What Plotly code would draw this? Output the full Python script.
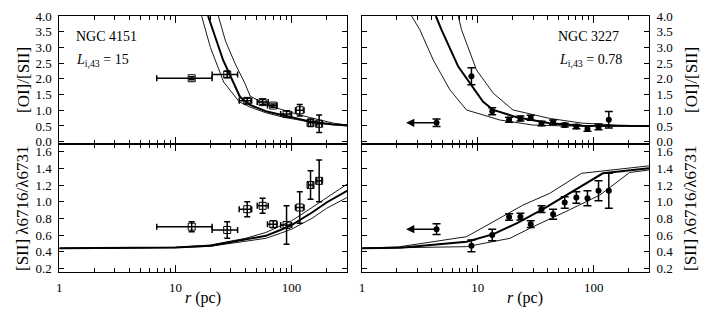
import math
import plotly.graph_objects as go

# ---------------- data ----------------
# NGC 4151 (left panels)
n4151_r = [13.8, 27.9, 41.5, 56.3, 69.5, 90.5, 117.6, 145.6, 172.8]
n4151_r_lo = [6.9, 20.7, 35.4, 50.6, 62.0, 80.5, 108.0, 139.0, 165.0]
n4151_r_hi = [20.7, 34.3, 45.3, 62.9, 75.0, 100.0, 128.0, 153.0, 182.0]
n4151_oi = [2.02, 2.14, 1.30, 1.26, 1.15, 0.88, 1.00, 0.60, 0.57]
n4151_oi_err = [0.05, 0.10, 0.08, 0.08, 0.05, 0.10, 0.18, 0.12, 0.28]
n4151_sii = [0.70, 0.66, 0.91, 0.95, 0.73, 0.72, 0.93, 1.20, 1.25]
n4151_sii_err = [0.06, 0.10, 0.09, 0.09, 0.04, 0.23, 0.19, 0.17, 0.25]

# NGC 3227 (right panels); first point is an upper limit in r
n3227_r = [4.4, 8.8, 13.3, 18.6, 23.3, 28.6, 35.4, 44.6, 56.2, 70.8, 88.3, 110.0, 135.0]
n3227_oi = [0.60, 2.08, 0.97, 0.70, 0.74, 0.76, 0.58, 0.62, 0.53, 0.48, 0.41, 0.47, 0.70]
n3227_oi_err = [0.12, 0.27, 0.11, 0.08, 0.08, 0.08, 0.07, 0.07, 0.06, 0.07, 0.08, 0.09, 0.26]
n3227_sii = [0.67, 0.47, 0.60, 0.816, 0.82, 0.73, 0.91, 0.85, 0.99, 1.05, 1.04, 1.13, 1.13]
n3227_sii_err = [0.065, 0.07, 0.07, 0.04, 0.04, 0.04, 0.04, 0.06, 0.07, 0.07, 0.09, 0.12, 0.21]
n3227_limit_r_end = 2.4

# model curves, NGC 4151, [OI]/[SII]
m4151_oi_mid_r = [19.1, 25.7, 35.9, 43.8, 60, 85, 143, 229, 300]
m4151_oi_mid_v = [4.0, 2.6, 1.43, 1.17, 0.97, 0.83, 0.64, 0.55, 0.52]
m4151_oi_lo_r = [16.8, 20, 26, 35.4, 44, 60, 85, 164, 300]
m4151_oi_lo_v = [4.0, 3.0, 1.9, 1.27, 1.1, 0.92, 0.78, 0.59, 0.5]
m4151_oi_hi_r = [23.4, 27, 32.5, 39.6, 44, 61, 117, 229, 300]
m4151_oi_hi_v = [4.0, 3.2, 2.5, 1.86, 1.45, 1.17, 0.85, 0.59, 0.53]

# model curves, NGC 4151, [SII] ratio
m4151_sii_r = [1, 5, 10, 20, 40, 60, 80, 100, 150, 200, 300]
m4151_sii_mid_v = [0.44, 0.443, 0.45, 0.47, 0.54, 0.59, 0.66, 0.72, 0.87, 0.99, 1.13]
m4151_sii_up_v = [0.44, 0.443, 0.452, 0.48, 0.56, 0.63, 0.71, 0.77, 0.93, 1.05, 1.21]
m4151_sii_dn_v = [0.44, 0.443, 0.448, 0.465, 0.53, 0.56, 0.62, 0.67, 0.80, 0.92, 1.05]

# model curves, NGC 3227, [OI]/[SII]
m3227_oi_mid_r = [4.34, 4.86, 6.77, 8.82, 11.1, 13.6, 21.6, 41.7, 81, 300]
m3227_oi_mid_v = [4.0, 3.56, 2.39, 1.8, 1.27, 1.01, 0.78, 0.59, 0.51, 0.5]
m3227_oi_lo_r = [2.68, 3.16, 4.12, 5.74, 7.98, 15.5, 30, 60, 300]
m3227_oi_lo_v = [4.0, 3.56, 2.6, 1.65, 1.01, 0.69, 0.53, 0.5, 0.5]
m3227_oi_hi_r = [6.77, 7.23, 9.74, 13.6, 20.1, 41.7, 80, 157, 300]
m3227_oi_hi_v = [4.0, 3.56, 2.28, 1.54, 1.01, 0.74, 0.59, 0.53, 0.5]

# model curves, NGC 3227, [SII] ratio
m3227_sii_mid_r = [1, 2.13, 8, 13.6, 21.6, 36.5, 120, 300]
m3227_sii_mid_v = [0.44, 0.447, 0.52, 0.61, 0.74, 0.91, 1.34, 1.40]
m3227_sii_up_r = [1, 2.13, 8, 15.5, 24.6, 41.7, 78.3, 300]
m3227_sii_up_v = [0.44, 0.46, 0.58, 0.80, 0.96, 1.10, 1.34, 1.43]
m3227_sii_dn_r = [1, 2.13, 8, 18.9, 30, 57.3, 113, 204, 300]
m3227_sii_dn_v = [0.44, 0.445, 0.46, 0.56, 0.70, 0.88, 1.08, 1.35, 1.38]

x_major = [1, 10, 100]
x_minor = [2, 3, 4, 5, 6, 7, 8, 9, 20, 30, 40, 50, 60, 70, 80, 90, 200, 300]
oi_ticks = [0.0, 0.5, 1.0, 1.5, 2.0, 2.5, 3.0, 3.5, 4.0]
sii_ticks = [0.2, 0.4, 0.6, 0.8, 1.0, 1.2, 1.4, 1.6]

# ---------------- figure ----------------
W, H = 709, 313
FONT = "Liberation Serif"
fig = go.Figure()

def line(r, v, xa, ya, w):
    fig.add_trace(go.Scatter(x=r, y=v, mode="lines", xaxis=xa, yaxis=ya,
                             line=dict(color="black", width=w), showlegend=False,
                             hoverinfo="skip"))

# NGC 4151 curves
line(m4151_oi_lo_r, m4151_oi_lo_v, "x", "y", 0.9)
line(m4151_oi_hi_r, m4151_oi_hi_v, "x", "y", 0.9)
line(m4151_oi_mid_r, m4151_oi_mid_v, "x", "y", 2.0)
line(m4151_sii_r, m4151_sii_up_v, "x2", "y2", 0.9)
line(m4151_sii_r, m4151_sii_dn_v, "x2", "y2", 0.9)
line(m4151_sii_r, m4151_sii_mid_v, "x2", "y2", 2.0)
# NGC 3227 curves
line(m3227_oi_lo_r, m3227_oi_lo_v, "x3", "y3", 0.9)
line(m3227_oi_hi_r, m3227_oi_hi_v, "x3", "y3", 0.9)
line(m3227_oi_mid_r, m3227_oi_mid_v, "x3", "y3", 2.0)
line(m3227_sii_up_r, m3227_sii_up_v, "x4", "y4", 0.9)
line(m3227_sii_dn_r, m3227_sii_dn_v, "x4", "y4", 0.9)
line(m3227_sii_mid_r, m3227_sii_mid_v, "x4", "y4", 2.0)

xplus = [h - c for h, c in zip(n4151_r_hi, n4151_r)]
xminus = [c - l for l, c in zip(n4151_r_lo, n4151_r)]

for ya, vals, errs, xa in [("y", n4151_oi, n4151_oi_err, "x"),
                           ("y2", n4151_sii, n4151_sii_err, "x2")]:
    fig.add_trace(go.Scatter(
        x=n4151_r, y=vals, mode="markers", xaxis=xa, yaxis=ya, showlegend=False,
        marker=dict(symbol="square-open", size=7, color="black", line=dict(width=1)),
        error_x=dict(type="data", symmetric=False, array=xplus, arrayminus=xminus,
                     color="black", thickness=1.5, width=3),
        error_y=dict(type="data", array=errs, color="black", thickness=1.5, width=3)))

for ya, vals, errs, xa in [("y3", n3227_oi, n3227_oi_err, "x3"),
                           ("y4", n3227_sii, n3227_sii_err, "x4")]:
    fig.add_trace(go.Scatter(
        x=n3227_r, y=vals, mode="markers", xaxis=xa, yaxis=ya, showlegend=False,
        marker=dict(symbol="circle", size=6, color="black"),
        error_y=dict(type="data", array=errs, color="black", thickness=1.5, width=4)))
    fig.add_annotation(x=math.log10(n3227_limit_r_end), y=vals[0], xref=xa, yref=ya,
                       ax=math.log10(n3227_r[0]), ay=vals[0], axref=xa, ayref=ya,
                       showarrow=True, arrowhead=2, arrowsize=1.1, arrowwidth=1.5,
                       arrowcolor="black", text="")

xl = [59.3 / W, 347 / W]
xr = [362 / W, 649 / W]
yt = [1 - 144 / H, 1 - 16 / H]
yb = [1 - 272 / H, 1 - 144 / H]

tickfont = dict(family=FONT, size=13, color="black")

def xaxis(dom, anchor, labels):
    return dict(type="log", domain=dom, anchor=anchor, range=[0, math.log10(300)],
                tickmode="array", tickvals=x_major, ticktext=[str(v) for v in x_major],
                showticklabels=labels, ticks="inside", ticklen=7, tickcolor="black",
                minor=dict(tickmode="array", tickvals=x_minor, ticks="inside", ticklen=4,
                           tickcolor="black"),
                showline=True, linecolor="black", linewidth=1, mirror="ticks",
                showgrid=False, zeroline=False, tickfont=tickfont, ticklabelstandoff=3,
                automargin=False)

def yaxis(dom, anchor, rng, ticks, side):
    return dict(domain=dom, anchor=anchor, range=rng, side=side,
                tickmode="array", tickvals=ticks, ticktext=["%.1f" % t for t in ticks],
                ticks="inside", ticklen=5, tickcolor="black",
                showline=True, linecolor="black", linewidth=1, mirror="ticks",
                showgrid=False, zeroline=False, tickfont=tickfont, ticklabelstandoff=4,
                automargin=False)

oi_range = [-0.073, 4.0]
sii_range = [0.156, 1.692]

fig.update_layout(
    width=W, height=H, margin=dict(l=0, r=0, t=0, b=0, autoexpand=False),
    paper_bgcolor="white", plot_bgcolor="white",
    font=dict(family=FONT, color="black"),
    xaxis=xaxis(xl, "y", False), yaxis=yaxis(yt, "x", oi_range, oi_ticks, "left"),
    xaxis2=xaxis(xl, "y2", True), yaxis2=yaxis(yb, "x2", sii_range, sii_ticks, "left"),
    xaxis3=xaxis(xr, "y3", False), yaxis3=yaxis(yt, "x3", oi_range, oi_ticks, "right"),
    xaxis4=xaxis(xr, "y4", True), yaxis4=yaxis(yb, "x4", sii_range, sii_ticks, "right"),
)

def ptext(text, x, y, size, xanchor="center", angle=0):
    fig.add_annotation(text=text, x=x / W, y=1 - y / H, xref="paper", yref="paper",
                       showarrow=False, xanchor=xanchor, yanchor="middle",
                       textangle=angle, font=dict(family=FONT, size=size, color="black"))

ptext("NGC 4151", 74, 37, 14, "left")
ptext("<i>L</i><sub>i,43</sub> = 15", 74, 61, 14, "left")
ptext("NGC 3227", 621, 37, 14, "right")
ptext("<i>L</i><sub>i,43</sub> = 0.78", 624, 61, 14, "right")
ptext("[OI]/[SII]", 23, 80, 17, angle=-90)
ptext("[SII] λ6716/λ6731", 22, 208, 17, angle=-90)
ptext("[OI]/[SII]", 691, 80, 17, angle=-90)
ptext("[SII] λ6716/λ6731", 690, 208, 17, angle=-90)
ptext("<i>r</i> (pc)", 203, 298, 16)
ptext("<i>r</i> (pc)", 525, 298, 16)

fig.write_html("out.html", config={"displayModeBar": False},
               post_script="document.body.style.margin='0';document.body.style.overflow='hidden';")
